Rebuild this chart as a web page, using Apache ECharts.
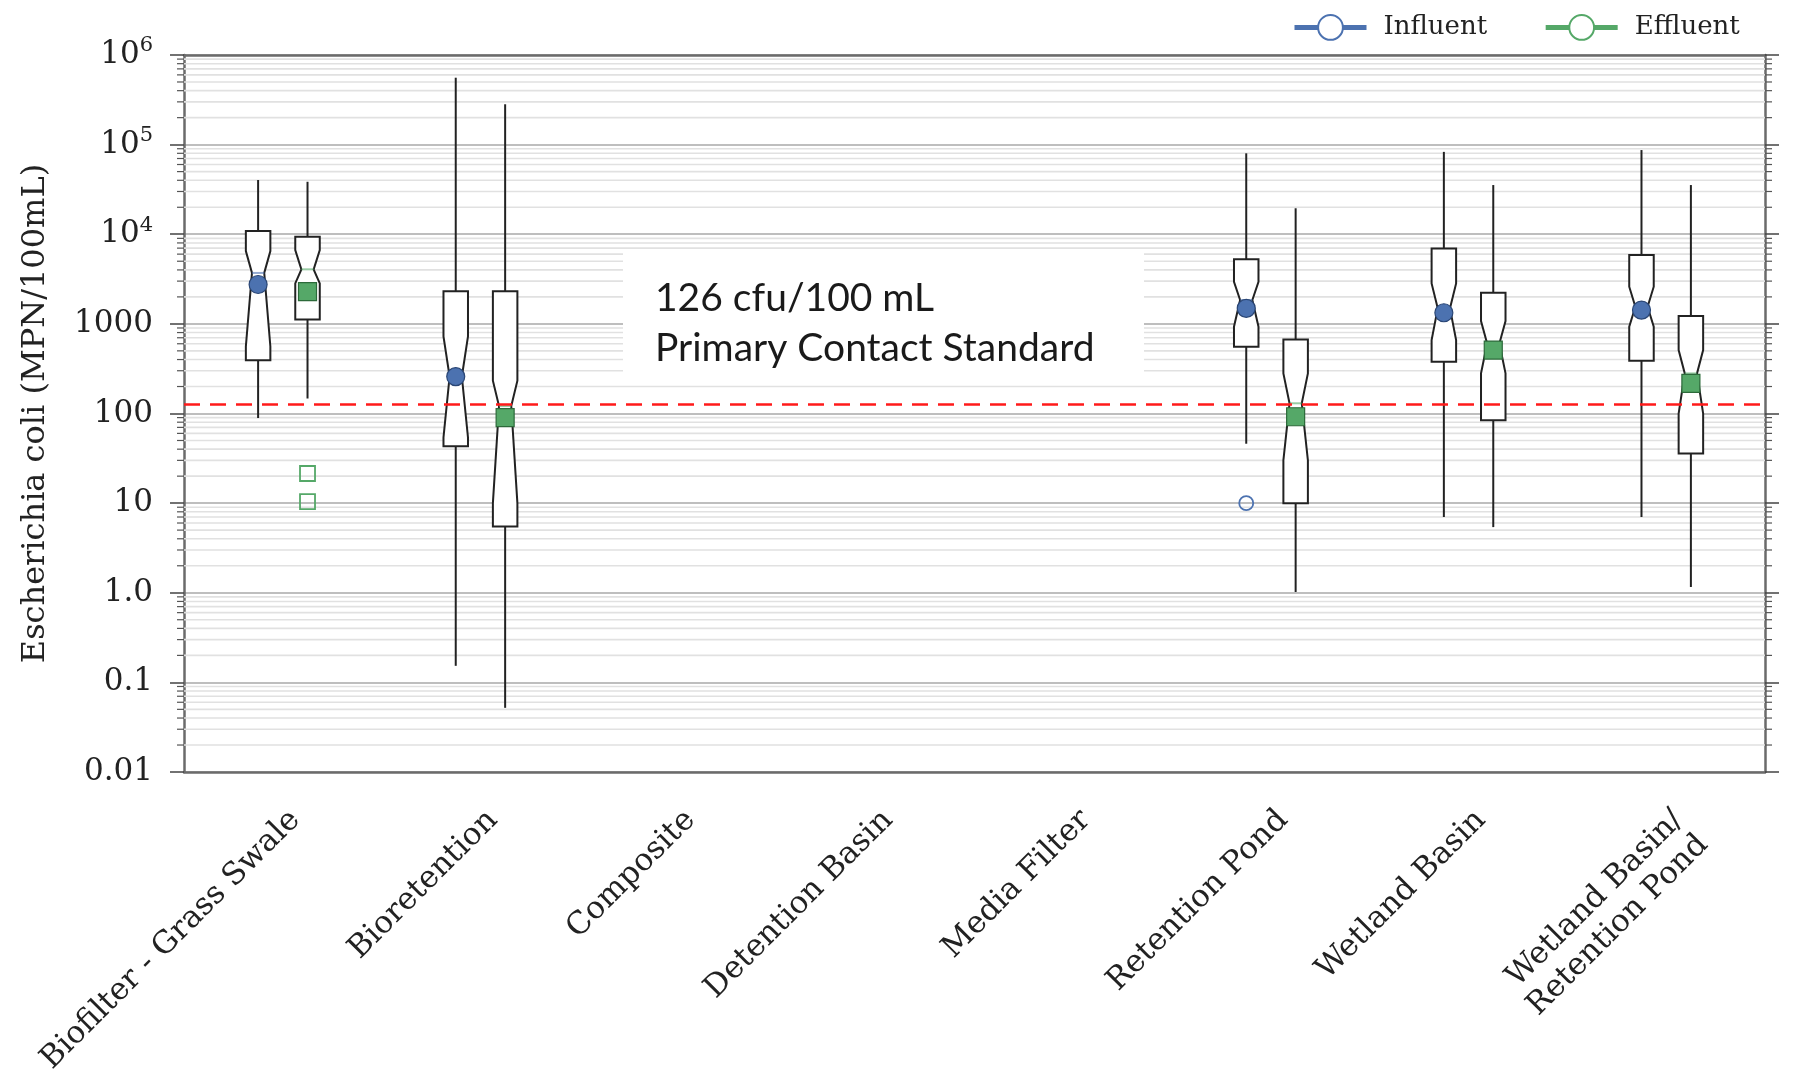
<!DOCTYPE html>
<html><head><meta charset="utf-8">
<script src="https://cdn.jsdelivr.net/npm/echarts@6/dist/echarts.min.js"></script>
<style>html,body{margin:0;padding:0;background:#fff}#c{width:1799px;height:1072px}</style>
</head><body><div id="c"></div>
<script>
// ---------------- data ----------------
const categories = ['Biofilter - Grass Swale', 'Bioretention', 'Composite', 'Detention Basin',
  'Media Filter', 'Retention Pond', 'Wetland Basin', 'Wetland Basin/\nRetention Pond'];

// row: [categoryIndex, whiskerLow, q1, notchLow, median, notchHigh, q3, whiskerHigh, marker]
const influentBoxes = [
  [0, 89, 394, 560, 3700, 6500, 10900, 40300, 2750],
  [1, 0.153, 43, 54, 258, 724, 2310, 558000, 258],
  [5, 46, 556, 930, 1845, 2950, 5250, 80000, 1490],
  [6, 7.0, 378, 659, 1490, 2830, 6950, 83000, 1330],
  [7, 7.0, 388, 930, 1550, 2600, 5860, 87000, 1425]
];
const effluentBoxes = [
  [0, 147, 1122, 2830, 4060, 6670, 9390, 38500, 2285],
  [1, 0.052, 5.5, 10, 121, 232, 2310, 282000, 90],
  [5, 1.02, 10, 30, 130, 280, 671, 19500, 92],
  [6, 5.4, 84, 280, 605, 1076, 2220, 35400, 510],
  [7, 1.16, 35.8, 100, 280, 510, 1222, 35400, 217]
];
const influentOutliers = [[5, 10]];
const effluentOutliers = [[0, 21.4], [0, 10.4]];
const standardValue = [[0, 126]];
const standardText = '126 cfu/100 mL\nPrimary Contact Standard';

const yTickExponents = [-2, -1, 0, 1, 2, 3, 4, 5, 6];
const yTickLabels = ['0.01', '0.1', '1.0', '10', '100', '1000', '10{sup|4}', '10{sup|5}', '10{sup|6}'];
const minorMultipliers = [2, 3, 4, 5, 6, 7, 8, 9];

// ---------------- helpers ----------------
const SERIF = 'DejaVu Serif';
const BLUE = '#4c72b0', GREEN = '#55a868';
const BLUE_EDGE = '#2a4675', GREEN_EDGE = '#2c6a3a';

const minorGrid = [];
for (let e = -2; e < 6; e++) {
  minorMultipliers.forEach(m => minorGrid.push([0, m * Math.pow(10, e)]));
}

function boxRenderer(offset, shape, color, edge) {
  return function (params, api) {
    const ci = api.value(0);
    const band = api.size([1, 0])[0];
    const cx = api.coord([ci, 1])[0] + offset * band;
    const Y = i => api.coord([ci, api.value(i)])[1];
    const hw = band * 0.062, nw = hw * 0.5;
    const yWl = Y(1), yQ1 = Y(2), yCl = Y(3), yMd = Y(4), yCh = Y(5), yQ3 = Y(6), yWh = Y(7), yMk = Y(8);
    const stroke = { stroke: '#222', lineWidth: 2 };
    const children = [
      { type: 'line', shape: { x1: cx, y1: yQ3, x2: cx, y2: yWh }, style: stroke },
      { type: 'line', shape: { x1: cx, y1: yQ1, x2: cx, y2: yWl }, style: stroke },
      { type: 'polygon', shape: { points: [[cx - hw, yQ1], [cx - hw, yCl], [cx - nw, yMd], [cx - hw, yCh], [cx - hw, yQ3],
        [cx + hw, yQ3], [cx + hw, yCh], [cx + nw, yMd], [cx + hw, yCl], [cx + hw, yQ1]] },
        style: { fill: '#fff', stroke: '#222', lineWidth: 2 } },
      { type: 'line', shape: { x1: cx - nw, y1: yMd, x2: cx + nw, y2: yMd }, style: { stroke: color, lineWidth: 2, opacity: 0.6 } }
    ];
    if (shape === 'circle') {
      children.push({ type: 'circle', shape: { cx: cx, cy: yMk, r: 9 }, style: { fill: color, stroke: edge, lineWidth: 1.2 } });
    } else {
      children.push({ type: 'rect', shape: { x: cx - 9, y: yMk - 9, width: 18, height: 18 }, style: { fill: color, stroke: edge, lineWidth: 1.2 } });
    }
    return { type: 'group', children: children };
  };
}
function outlierRenderer(offset, shape, color) {
  return function (params, api) {
    const ci = api.value(0);
    const band = api.size([1, 0])[0];
    const p = api.coord([ci, api.value(1)]);
    const cx = p[0] + offset * band;
    if (shape === 'circle') {
      return { type: 'circle', shape: { cx: cx, cy: p[1], r: 7 }, style: { fill: 'none', stroke: color, lineWidth: 1.8 } };
    }
    return { type: 'rect', shape: { x: cx - 7.5, y: p[1] - 7.5, width: 15, height: 15 }, style: { fill: 'none', stroke: color, lineWidth: 1.8 } };
  };
}
function minorGridRenderer(params, api) {
  const cs = params.coordSys;
  const y = api.coord([0, api.value(1)])[1];
  return { type: 'group', children: [
    { type: 'line', shape: { x1: cs.x, y1: y, x2: cs.x + cs.width, y2: y }, style: { stroke: '#e1e1e1', lineWidth: 1.6 } },
    { type: 'line', shape: { x1: cs.x - 7, y1: y, x2: cs.x, y2: y }, style: { stroke: '#555', lineWidth: 1.2 } },
    { type: 'line', shape: { x1: cs.x + cs.width, y1: y, x2: cs.x + cs.width + 7, y2: y }, style: { stroke: '#555', lineWidth: 1.2 } }
  ] };
}
function standardRenderer(params, api) {
  const cs = params.coordSys;
  const y = api.coord([0, api.value(1)])[1];
  return { type: 'line', shape: { x1: cs.x, y1: y, x2: cs.x + cs.width, y2: y },
    style: { stroke: '#ff1a1a', lineWidth: 2.5, lineDash: [16, 10] } };
}

const OFF = 0.125;
const chart = echarts.init(document.getElementById('c'));
const axisLineStyle = { color: '#6b6b6b', width: 2.5 };
chart.setOption({
  animation: false,
  backgroundColor: '#fff',
  grid: { left: 184, right: 34, top: 55, bottom: 300, containLabel: false, outerBoundsMode: 'none' },
  legend: {
    data: ['Influent', 'Effluent'],
    left: 1287, top: 9,
    itemWidth: 72, itemHeight: 31, itemGap: 56,
    lineStyle: { width: 5 },
    itemStyle: { borderWidth: 3.5 },
    textStyle: { fontFamily: SERIF, fontSize: 26, color: '#222', padding: [0, 0, 0, 12] }
  },
  xAxis: [{
    type: 'category', data: categories, boundaryGap: true,
    axisLine: { lineStyle: axisLineStyle },
    axisTick: { alignWithLabel: true, length: 18, lineStyle: { color: '#444', width: 1.5 } },
    axisLabel: { interval: 0, rotate: 45, margin: 31, align: 'right', verticalAlign: 'top',
      fontFamily: SERIF, fontSize: 31, color: '#222', lineHeight: 35 },
    splitLine: { show: false }
  }, {
    type: 'category', data: categories, position: 'top', boundaryGap: true,
    axisLine: { lineStyle: axisLineStyle },
    axisTick: { alignWithLabel: true, length: 12, lineStyle: { color: '#444', width: 1.5 } },
    axisLabel: { show: false }, splitLine: { show: false }
  }],
  yAxis: [{
    type: 'log', logBase: 10, min: 0.01, max: 1e6, splitNumber: 8,
    name: 'Escherichia coli (MPN/100mL)', nameLocation: 'middle', nameGap: 132,
    nameTextStyle: { fontFamily: SERIF, fontSize: 32, color: '#222' },
    axisLine: { show: true, lineStyle: axisLineStyle },
    axisTick: { show: true, length: 14, lineStyle: { color: '#444', width: 1.5 } },
    axisLabel: {
      showMinLabel: true, showMaxLabel: true, margin: 31,
      fontFamily: SERIF, fontSize: 31, color: '#222',
      formatter: function (v) {
        const e = Math.round(Math.log10(v));
        const i = yTickExponents.indexOf(e);
        return i >= 0 ? yTickLabels[i] : '';
      },
      rich: { sup: { fontFamily: SERIF, fontSize: 21, color: '#222', padding: [0, 0, 18, 0] } }
    },
    splitLine: { show: true, lineStyle: { color: '#a9a9a9', width: 1.6 } }
  }, {
    type: 'log', logBase: 10, min: 0.01, max: 1e6, splitNumber: 8, position: 'right',
    axisLine: { show: true, lineStyle: axisLineStyle },
    axisTick: { show: true, length: 14, lineStyle: { color: '#444', width: 1.5 } },
    axisLabel: { show: false }, splitLine: { show: false }
  }],
  graphic: [{
    type: 'group', left: 623, top: 252, z: 50,
    children: [
      { type: 'rect', z: 50, shape: { x: 0, y: 0, width: 521, height: 127 }, style: { fill: '#ffffff' } },
      { type: 'text', z: 51, x: 32, y: 21, style: { text: standardText, font: '39px Lato', fill: '#1a1a1a', lineHeight: 50, verticalAlign: 'top' } }
    ]
  }],
  series: [
    { name: 'minor grid', type: 'custom', z: 1, clip: false, silent: true, data: minorGrid,
      encode: { x: 0, y: 1 }, renderItem: minorGridRenderer },
    { name: 'Influent', type: 'line', data: [], color: BLUE, symbol: 'emptyCircle', symbolSize: 18,
      lineStyle: { width: 4, color: BLUE }, itemStyle: { color: BLUE, borderWidth: 3 } },
    { name: 'Effluent', type: 'line', data: [], color: GREEN, symbol: 'emptyCircle', symbolSize: 18,
      lineStyle: { width: 4, color: GREEN }, itemStyle: { color: GREEN, borderWidth: 3 } },
    { name: 'Influent boxes', type: 'custom', z: 3, data: influentBoxes,
      encode: { x: 0, y: [1, 2, 3, 4, 5, 6, 7, 8] }, renderItem: boxRenderer(-OFF, 'circle', BLUE, BLUE_EDGE) },
    { name: 'Effluent boxes', type: 'custom', z: 3, data: effluentBoxes,
      encode: { x: 0, y: [1, 2, 3, 4, 5, 6, 7, 8] }, renderItem: boxRenderer(OFF, 'square', GREEN, GREEN_EDGE) },
    { name: 'Influent outliers', type: 'custom', z: 3, data: influentOutliers,
      encode: { x: 0, y: 1 }, renderItem: outlierRenderer(-OFF, 'circle', BLUE) },
    { name: 'Effluent outliers', type: 'custom', z: 3, data: effluentOutliers,
      encode: { x: 0, y: 1 }, renderItem: outlierRenderer(OFF, 'square', GREEN) },
    { name: 'standard', type: 'custom', z: 5, silent: true, data: standardValue,
      encode: { x: 0, y: 1 }, renderItem: standardRenderer }
  ]
});
</script>
</body></html>
